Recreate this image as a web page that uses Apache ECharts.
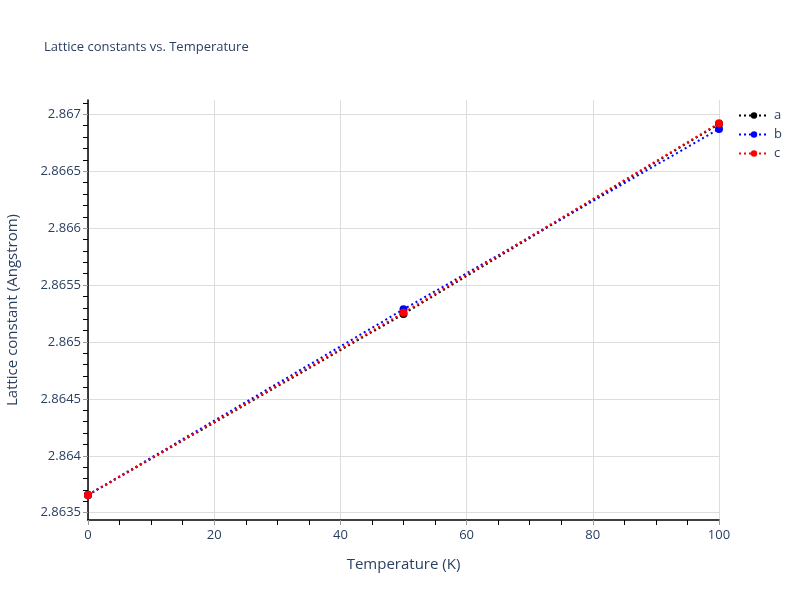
<!DOCTYPE html>
<html>
<head>
<meta charset="utf-8">
<script src="https://cdn.jsdelivr.net/npm/echarts@6/dist/echarts.min.js"></script>
<style>
  html, body { margin: 0; padding: 0; background: #fff; }
  #main { width: 800px; height: 600px; }
</style>
</head>
<body>
<div id="main"></div>
<script>
// temperatures (K)
var temps = [0, 50, 100];

// lattice constants (Angstrom)
var aValues = [2.863656, 2.865246, 2.866915];
var bValues = [2.863656, 2.865287, 2.866871];
var cValues = [2.863656, 2.865257, 2.866921];

// y tick labels
var yTicks = [2.8635, 2.864, 2.8645, 2.865, 2.8655, 2.866, 2.8665, 2.867];
var yMinorTicks = [
	2.8636, 2.8637, 2.8638, 2.8639,
	2.8641, 2.8642, 2.8643, 2.8644,
	2.8646, 2.8647, 2.8648, 2.8649,
	2.8651, 2.8652, 2.8653, 2.8654,
	2.8656, 2.8657, 2.8658, 2.8659,
	2.8661, 2.8662, 2.8663, 2.8664,
	2.8666, 2.8667, 2.8668, 2.8669,
	2.8671
];
var yMin = 2.863436;
var yMax = 2.867126;

var textColor = '#2a3f5f';
var fontFamily = '"Open Sans", verdana, arial, sans-serif';

function pairs(values) {
	return temps.map(function (t, i) { return [t, values[i]]; });
}

function makeSeries(name, values, color) {
	return {
		name: name,
		type: 'line',
		data: pairs(values),
		symbol: 'circle',
		symbolSize: 8,
		itemStyle: { color: color },
		lineStyle: { color: color, width: 2, type: [2, 3] },
		emphasis: { disabled: true },
		animation: false
	};
}

var chart = echarts.init(document.getElementById('main'));

var option = {
	backgroundColor: '#fff',
	textStyle: { fontFamily: fontFamily },
	title: {
		text: 'Lattice constants vs. Temperature',
		left: 39,
		top: 36,
		textStyle: { fontSize: 13, fontWeight: 'normal', color: textColor, fontFamily: fontFamily }
	},
	legend: {
		orient: 'vertical',
		left: 733,
		top: 104,
		itemWidth: 30,
		itemHeight: 8,
		itemGap: 6,
		textStyle: { fontSize: 13, color: textColor, fontFamily: fontFamily },
		data: ['a', 'b', 'c']
	},
	grid: { left: 88, right: 81, top: 100, bottom: 80, containLabel: false, outerBoundsMode: 'none' },
	xAxis: {
		type: 'value',
		min: 0,
		max: 100,
		interval: 20,
		name: 'Temperature (K)',
		nameLocation: 'middle',
		nameGap: 37,
		nameTextStyle: { fontSize: 15, color: textColor, fontFamily: fontFamily },
		axisLine: { show: true, onZero: false, lineStyle: { color: '#000', width: 1.5 } },
		axisTick: { show: true, length: 5, lineStyle: { color: '#999' } },
		minorTick: { show: true, splitNumber: 4, length: 5, lineStyle: { color: '#000' } },
		axisLabel: { fontSize: 13, color: textColor, margin: 9, fontFamily: fontFamily },
		splitLine: { show: true, lineStyle: { color: '#ddd', width: 1 } }
	},
	yAxis: [
		{
			type: 'value',
			min: yMin,
			max: yMax,
			name: 'Lattice constant (Angstrom)',
			nameLocation: 'middle',
			nameGap: 68,
			nameTextStyle: { fontSize: 15, color: textColor, fontFamily: fontFamily },
			axisLine: { show: true, lineStyle: { color: '#000', width: 1.5 } },
			axisTick: { show: true, length: 5, customValues: yTicks, lineStyle: { color: '#999' } },
			axisLabel: {
				fontSize: 13,
				color: textColor,
				margin: 7,
				fontFamily: fontFamily,
				customValues: yTicks,
				formatter: function (v) { return String(+(+v).toFixed(4)); }
			},
			splitLine: { show: true, lineStyle: { color: '#ddd', width: 1 } }
		},
		{
			type: 'value',
			min: yMin,
			max: yMax,
			position: 'left',
			axisLine: { show: false },
			axisTick: { show: true, length: 5, customValues: yMinorTicks, lineStyle: { color: '#000' } },
			axisLabel: { show: false },
			splitLine: { show: false }
		}
	],
	series: [
		makeSeries('a', aValues, '#000000'),
		makeSeries('b', bValues, '#0000ff'),
		makeSeries('c', cValues, '#ff0000')
	]
};

chart.setOption(option);
</script>
</body>
</html>
